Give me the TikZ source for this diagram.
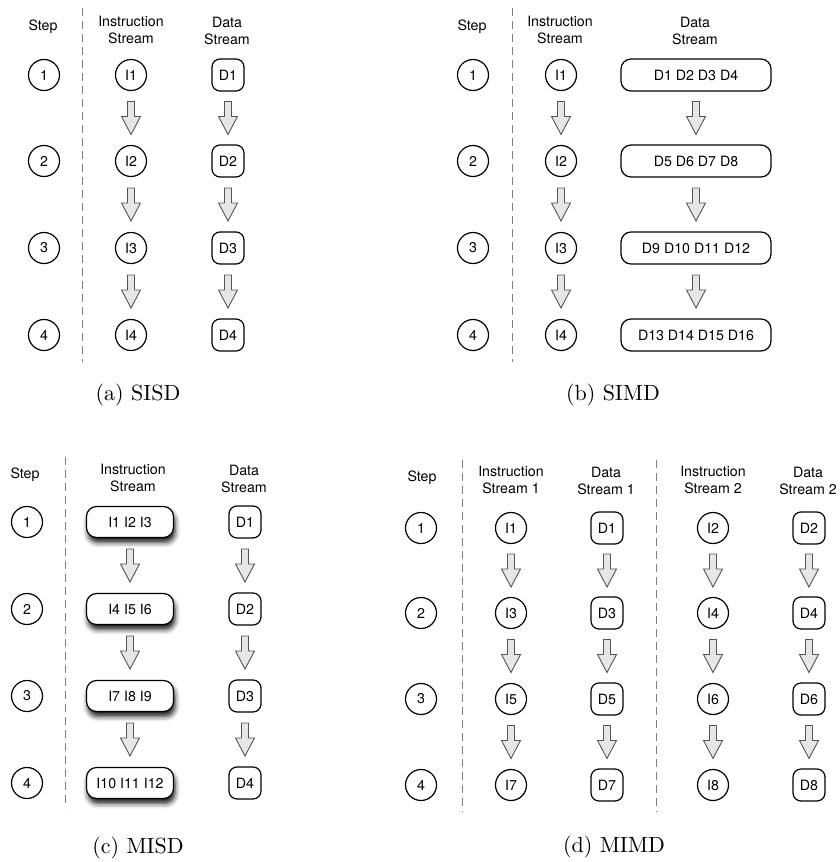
\documentclass[tikz,border=0pt]{standalone}
\usepackage{fontspec}
\newfontfamily\hv{TeX Gyre Heros}
\newfontfamily\capfont{lmroman10-regular}[Extension=.otf]
\usetikzlibrary{calc,shadows.blur}
\definecolor{arrfill}{HTML}{E6E6E6}
\definecolor{arrline}{HTML}{555555}
\definecolor{dashc}{HTML}{7F7F7F}
\tikzset{
  txt/.style={font=\hv\fontsize{14.2}{16.5}\selectfont, inner sep=0pt},
  hdr/.style={txt, align=center},
  stepc/.style={txt, circle, draw, line width=1.2pt, minimum size=31pt},
  inode/.style={txt, circle, draw, line width=1.2pt, minimum size=31pt},
  dnode/.style={txt, draw, line width=1.2pt, rounded corners=8pt, minimum width=32pt, minimum height=32pt},
  dwide/.style={txt, draw, line width=1.2pt, rounded corners=10pt, minimum width=150pt, minimum height=32pt},
  iwide/.style={txt, draw, fill=white, line width=1.2pt, rounded corners=10pt, minimum width=87pt, minimum height=31pt,
     blur shadow={shadow xshift=1.5pt, shadow yshift=-5pt, shadow blur radius=5pt, shadow opacity=90}},
  barr/.style={draw=arrline, fill=arrfill, line width=0.9pt, line join=miter},
  sep/.style={draw=dashc, line width=0.9pt, dash pattern=on 8pt off 5pt},
  capt/.style={font=\capfont\fontsize{22}{26}\selectfont, inner sep=0pt}
}
\newcommand\barrow[2]{\draw[barr] ($(#1)!0.5!(#2)$) ++(-3.5,-16.5) -- ++(7,0) -- ++(0,15) -- ++(6,0) -- ++(-9.5,18) -- ++(-9.5,-18) -- ++(6,0) -- cycle;}
\begin{document}
\begin{tikzpicture}[x=1pt,y=-1pt]
\useasboundingbox (0,0) rectangle (839,862);
% ---------------- (a) SISD
\node[hdr] (ahs) at (43,27) {Step};
\node[hdr] (ahi) at (131,30) {Instruction\\Stream};
\node[hdr] (ahd) at (227,31) {Data\\Stream};
\draw[sep] (82,8) -- (82,362);
\foreach \r/\y in {1/75,2/161,3/248,4/335}{
  \node[stepc] (as\r) at (44,\y) {\r};
  \node[inode] (ai\r) at (131,\y) {I\r};
  \node[dnode] (ad\r) at (228,\y) {D\r};
}
\foreach \a/\b in {1/2,2/3,3/4}{\barrow{ai\a}{ai\b}\barrow{ad\a}{ad\b}}
\node[capt] (capa) at (138,395) {(a) SISD};
% ---------------- (b) SIMD
\node[hdr] (bhs) at (472,27) {Step};
\node[hdr] (bhi) at (560,30) {Instruction\\Stream};
\node[hdr] (bhd) at (695,31) {Data\\Stream};
\draw[sep] (512,8) -- (512,362);
\foreach \r/\y/\t in {1/75/{D1 D2 D3 D4},2/161/{D5 D6 D7 D8},3/248/{D9 D10 D11 D12},4/335/{D13 D14 D15 D16}}{
  \node[stepc] (bs\r) at (473,\y) {\r};
  \node[inode] (bi\r) at (561,\y) {I\r};
  \node[dwide] (bd\r) at (696,\y) {\t};
}
\foreach \a/\b in {1/2,2/3,3/4}{\barrow{bi\a}{bi\b}\barrow{bd\a}{bd\b}}
\node[capt] (capb) at (613,395) {(b) SIMD};
% ---------------- (c) MISD
\node[hdr] (chs) at (25,475) {Step};
\node[hdr] (chi) at (133,478) {Instruction\\Stream};
\node[hdr] (chd) at (244,479) {Data\\Stream};
\draw[sep] (65,457) -- (65,808);
\foreach \r/\y/\t in {1/522/{I1 I2 I3},2/609/{I4 I5 I6},3/696/{I7 I8 I9},4/783/{I10 I11 I12}}{
  \node[stepc] (cs\r) at (27,\y) {\r};
  \node[iwide] (ci\r) at (130,\y) {\t};
  \node[dnode] (cd\r) at (245,\y) {D\r};
}
\foreach \a/\b in {1/2,2/3,3/4}{\barrow{ci\a}{ci\b}\barrow{cd\a}{cd\b}}
\node[capt] (capc) at (138,848) {(c) MISD};
% ---------------- (d) MIMD
\node[hdr] (dhs) at (422,478) {Step};
\node[hdr] (dhi1) at (511,480) {Instruction\\Stream 1};
\node[hdr] (dhd1) at (606,481) {Data\\Stream 1};
\node[hdr] (dhi2) at (713,480) {Instruction\\Stream 2};
\node[hdr] (dhd2) at (808,481) {Data\\Stream 2};
\draw[sep] (462,460) -- (462,812);
\draw[sep] (656,460) -- (656,812);
\foreach \r/\y/\a/\b in {1/528/1/2,2/613/3/4,3/699/5/6,4/785/7/8}{
  \node[stepc] (ds\r) at (421,\y) {\r};
  \node[inode] (dia\r) at (511,\y) {I\a};
  \node[dnode] (dda\r) at (607,\y) {D\a};
  \node[inode] (dib\r) at (713,\y) {I\b};
  \node[dnode] (ddb\r) at (809,\y) {D\b};
}
\foreach \a/\b in {1/2,2/3,3/4}{\barrow{dia\a}{dia\b}\barrow{dda\a}{dda\b}\barrow{dib\a}{dib\b}\barrow{ddb\a}{ddb\b}}
\node[capt] (capd) at (614,847) {(d) MIMD};
\end{tikzpicture}
\end{document}
